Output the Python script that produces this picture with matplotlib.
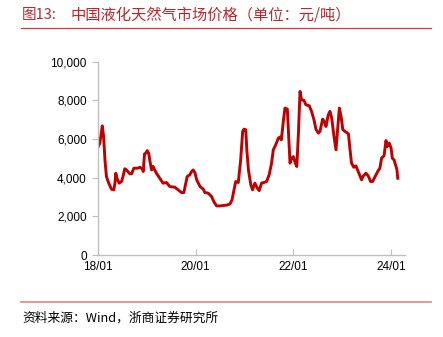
import matplotlib
matplotlib.use("Agg")
import matplotlib.pyplot as plt
import matplotlib.dates as mdates
import matplotlib.ticker as mticker
import pandas as pd

# ---------------------------------------------------------------------------
# Data, 元/吨
# ---------------------------------------------------------------------------
dates = [
    "2018-01-03", "2018-01-15", "2018-02-02", "2018-02-12", "2018-02-22",
    "2018-03-05", "2018-03-22", "2018-04-12", "2018-04-29", "2018-05-08",
    "2018-05-14", "2018-05-23", "2018-06-08", "2018-06-26", "2018-07-07",
    "2018-07-20", "2018-08-02", "2018-08-27", "2018-09-09", "2018-09-26",
    "2018-10-24", "2018-11-10", "2018-12-01", "2018-12-05", "2018-12-15",
    "2018-12-25", "2019-01-04", "2019-01-15", "2019-01-25", "2019-02-06",
    "2019-02-18", "2019-03-01", "2019-03-14", "2019-04-08", "2019-05-02",
    "2019-05-28", "2019-06-22", "2019-07-29", "2019-08-23", "2019-09-18",
    "2019-10-05", "2019-10-20", "2019-10-30", "2019-11-19", "2019-12-02",
    "2019-12-14", "2019-12-27", "2020-01-09", "2020-02-03", "2020-02-28",
    "2020-03-10", "2020-04-04", "2020-04-30", "2020-05-16", "2020-06-06",
    "2020-07-01", "2020-08-20", "2020-09-14", "2020-09-29", "2020-10-14",
    "2020-10-27", "2020-11-15", "2020-12-03", "2020-12-18", "2020-12-28",
    "2021-01-10", "2021-01-18", "2021-01-30", "2021-02-17", "2021-03-02",
    "2021-03-19", "2021-04-06", "2021-04-21", "2021-05-08", "2021-05-25",
    "2021-06-15", "2021-07-04", "2021-07-22", "2021-08-04", "2021-08-22",
    "2021-09-11", "2021-09-23", "2021-10-03", "2021-10-18", "2021-10-30",
    "2021-11-17", "2021-11-27", "2021-12-07", "2021-12-20", "2022-01-01",
    "2022-01-16", "2022-01-27", "2022-02-08", "2022-02-20", "2022-03-03",
    "2022-03-21", "2022-04-05", "2022-04-30", "2022-05-17", "2022-06-04",
    "2022-06-19", "2022-07-06", "2022-07-19", "2022-08-08", "2022-08-20",
    "2022-09-02", "2022-09-19", "2022-10-02", "2022-10-15", "2022-11-01",
    "2022-11-16", "2022-11-26", "2022-12-11", "2022-12-24", "2023-01-06",
    "2023-01-23", "2023-02-17", "2023-03-01", "2023-03-12", "2023-03-29",
    "2023-04-14", "2023-05-01", "2023-05-26", "2023-06-08", "2023-06-28",
    "2023-07-15", "2023-08-02", "2023-08-17", "2023-09-11", "2023-09-28",
    "2023-10-10", "2023-10-23", "2023-11-10", "2023-11-25", "2023-12-04",
    "2023-12-19", "2024-01-02", "2024-01-11", "2024-01-24", "2024-02-14",
    "2024-02-21",
]
prices = [
    5610, 5790, 6680, 6130, 4920,
    4060, 3720, 3400, 3370, 3720,
    4230, 3970, 3720, 3800, 4060,
    4460, 4400, 4200, 4200, 4490,
    4490, 4540, 4440, 4320, 5230,
    5270, 5400, 5270, 4830, 4400,
    4580, 4400, 4230, 3970, 3720,
    3750, 3540, 3510, 3370, 3230,
    3230, 3720, 4060, 4150, 4320,
    4400, 4260, 3890, 3540, 3400,
    3230, 3200, 3020, 2760, 2540,
    2540, 2580, 2640, 2850, 3370,
    3800, 3750, 4920, 6390, 6510,
    6480, 5440, 4400, 3630, 3370,
    3720, 3460, 3330, 3720, 3750,
    3800, 4150, 4750, 5440, 5700,
    6050, 6100, 5960, 6910, 7600,
    7550, 6130, 4750, 5010, 5090,
    4750, 4580, 6310, 8460, 8030,
    8000, 7770, 7720, 7430, 7000,
    6510, 6310, 6390, 7030, 6910,
    6650, 7250, 7430, 7080, 6130,
    5440, 6310, 7600, 7170, 6480,
    6390, 6270, 5440, 4750, 4540,
    4610, 4320, 3890, 4090, 4230,
    4090, 3800, 3800, 4150, 4370,
    4490, 5010, 5130, 5920, 5610,
    5790, 5530, 5010, 4920, 4440,
    3970,
]
x_ticks = ["2018-01-01", "2020-01-01", "2022-01-01", "2024-01-01"]

# ---------------------------------------------------------------------------
# Style
# ---------------------------------------------------------------------------
_LINE_RED = "#c00000"
_TITLE_RED = "#b8282e"
_AXIS_GRAY = "#bfbfbf"
_CJK = ["Noto Sans CJK SC", "DejaVu Sans"]
_LATIN = "Liberation Sans"

fig = plt.figure(figsize=(4.43, 3.37), dpi=100)
ax = fig.add_axes([98 / 443, 82 / 337, 307 / 443, 193.3 / 337])

ax.plot(pd.to_datetime(dates), prices, color=_LINE_RED, linewidth=2.1,
        solid_joinstyle="round")

ax.set_xlim(pd.Timestamp("2018-01-01"), pd.Timestamp("2024-04-15"))
ax.set_ylim(0, 10000)
ax.set_xticks(pd.to_datetime(x_ticks))
ax.xaxis.set_major_formatter(mdates.DateFormatter("%y/%m"))
ax.yaxis.set_major_locator(mticker.MultipleLocator(2000))
ax.yaxis.set_major_formatter(mticker.StrMethodFormatter("{x:,.0f}"))

for side in ("top", "right"):
    ax.spines[side].set_visible(False)
for side in ("left", "bottom"):
    ax.spines[side].set_color(_AXIS_GRAY)
    ax.spines[side].set_linewidth(1.0)
ax.tick_params(axis="y", direction="out", length=4, color=_AXIS_GRAY,
               labelsize=8.5, pad=4)
ax.tick_params(axis="x", direction="in", length=4, color=_AXIS_GRAY,
               labelsize=8.5, pad=4)
for lab in ax.get_xticklabels() + ax.get_yticklabels():
    lab.set_fontfamily(_LATIN)
    lab.set_color("#000000")

# Title and source lines
fig.text(22 / 443, 1 - 15 / 337, "图13:", fontsize=10.5, color=_TITLE_RED,
         family=_CJK, va="center", ha="left")
fig.text(71 / 443, 1 - 15 / 337, "中国液化天然气市场价格（单位：元/吨）",
         fontsize=11, color=_TITLE_RED, family=_CJK, va="center", ha="left")
fig.add_artist(plt.Line2D([21 / 443, 431 / 443], [1 - 28 / 337, 1 - 28 / 337],
                          color="#d03a3a", linewidth=0.9))
fig.add_artist(plt.Line2D([21 / 443, 431 / 443], [1 - 302 / 337, 1 - 302 / 337],
                          color="#e08585", linewidth=1.2))
fig.text(22 / 443, 1 - 318 / 337, "资料来源：Wind，浙商证券研究所", fontsize=9.2,
         color="#000000", family=_CJK, va="center", ha="left")

fig.savefig("out.png", dpi=100)
